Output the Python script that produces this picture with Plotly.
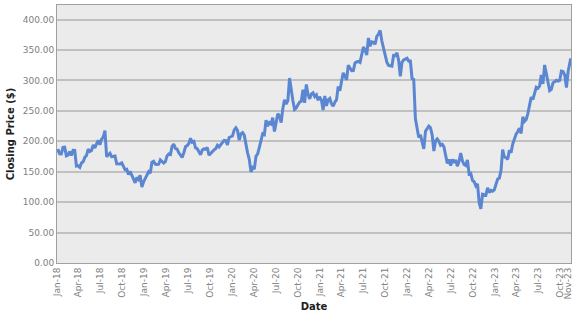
import plotly.graph_objects as go
import pandas as pd

# Weekly closing prices (approximate)
p2018 = [181.4, 186.9, 179.4, 179.3, 190.0, 190.3, 176.1, 177.4, 183.3, 176.6, 185.2, 185.1, 159.4, 159.8,
         157.2, 164.5, 166.3, 173.6, 176.6, 187.0, 183.2, 184.9, 194.0, 189.1, 195.9, 201.7, 194.3, 203.2,
         207.3, 217.5, 174.9, 177.8, 180.3, 174.7, 174.6, 175.7, 163.0, 162.5, 162.9, 164.5, 157.3, 153.4,
         154.1, 145.4, 150.4, 145.0, 139.5, 131.7, 140.6, 137.4, 144.1, 125.0, 133.2]
p2019 = [138.0, 144.2, 150.0, 147.5, 165.7, 167.3, 162.5, 161.9, 162.3, 169.6, 166.0, 164.3, 166.7, 176.0,
         179.1, 178.3, 191.5, 195.5, 188.3, 187.0, 181.1, 177.5, 173.4, 181.3, 191.1, 193.0, 196.4, 204.9,
         198.4, 199.8, 189.0, 187.9, 183.7, 177.8, 185.7, 187.5, 187.2, 189.9, 177.1, 180.5, 184.2, 185.9,
         187.9, 193.6, 190.8, 195.1, 198.8, 201.6, 201.1, 194.1, 206.3, 208.1]
p2020 = [208.7, 218.3, 222.1, 217.9, 201.9, 212.3, 214.2, 210.2, 192.5, 181.1, 170.3, 149.7, 156.8, 154.2,
         175.2, 179.2, 190.1, 202.3, 212.4, 210.9, 234.9, 225.1, 230.8, 228.6, 238.8, 216.1, 233.4, 245.1,
         242.0, 230.7, 253.7, 268.4, 261.2, 267.0, 303.9, 282.7, 266.6, 252.5, 254.8, 259.9, 264.5, 265.9,
         284.8, 263.1, 293.4, 277.0, 269.7, 277.8, 279.7, 273.6, 276.4, 267.4, 273.2]
p2021 = [267.6, 251.4, 274.5, 258.3, 268.1, 270.5, 261.6, 257.6, 264.3, 268.4, 290.1, 283.0, 298.7, 312.5,
         306.2, 301.1, 325.1, 319.1, 315.9, 316.2, 328.7, 330.4, 331.3, 329.7, 341.4, 354.7, 350.4, 341.7,
         369.8, 356.3, 363.5, 362.7, 359.4, 372.6, 376.3, 382.2, 364.7, 353.0, 343.0, 330.1, 324.8, 324.6,
         323.6, 341.1, 340.9, 345.3, 333.1, 306.8, 329.8, 333.8, 335.2, 336.4]
p2022 = [331.8, 331.9, 303.2, 301.7, 237.1, 219.6, 206.2, 210.5, 200.1, 187.6, 216.5, 221.8, 224.9, 222.3,
         210.2, 184.1, 200.5, 203.8, 199.8, 193.5, 195.1, 190.8, 175.6, 163.7, 170.2, 160.0, 170.2, 164.7,
         169.3, 159.1, 167.1, 180.5, 168.0, 161.8, 160.3, 169.2, 146.3, 147.3, 135.7, 133.5, 126.8, 130.0,
         99.2, 88.9, 113.0, 112.1, 111.4, 123.5, 115.9, 119.4, 118.0, 120.3]
p2023 = [130.0, 138.0, 139.4, 151.7, 186.5, 174.2, 173.0, 170.4, 185.3, 181.4, 195.6, 206.0, 211.9, 216.1,
         221.5, 212.9, 240.3, 232.8, 235.8, 245.6, 262.0, 272.6, 268.7, 281.0, 288.7, 287.0, 290.5, 308.9,
         294.3, 325.5, 310.7, 301.6, 283.3, 285.5, 296.4, 297.9, 300.3, 299.1, 300.2, 315.4, 314.7, 308.7,
         288.4, 314.6, 328.8, 336.3]

prices = p2018 + p2019 + p2020 + p2021 + p2022 + p2023

d2018 = [pd.Timestamp("2018-01-02")] + list(pd.date_range("2018-01-05", "2018-12-28", freq="W-FRI"))
d2019 = list(pd.date_range("2019-01-04", "2019-12-27", freq="W-FRI"))
d2020 = list(pd.date_range("2020-01-03", "2020-12-25", freq="W-FRI")) + [pd.Timestamp("2020-12-31")]
d2021 = list(pd.date_range("2021-01-08", "2021-12-31", freq="W-FRI"))
d2022 = list(pd.date_range("2022-01-07", "2022-12-30", freq="W-FRI"))
d2023 = list(pd.date_range("2023-01-06", "2023-11-03", freq="W-FRI")) + [pd.Timestamp("2023-11-10"), pd.Timestamp("2023-11-14")]
dates = d2018 + d2019 + d2020 + d2021 + d2022 + d2023
n = min(len(dates), len(prices))
dates = dates[:n]
prices = prices[:n]

tick_vals = list(pd.date_range("2018-01-01", "2023-10-01", freq="QS")) + [pd.Timestamp("2023-11-01")]
tick_text = [d.strftime("%b-%y") for d in tick_vals]
y_ticks = [0, 50, 100, 150, 200, 250, 300, 350, 400]

fig = go.Figure()
fig.add_trace(go.Scatter(x=dates, y=prices, mode="lines",
                         line=dict(color="#5b87d2", width=3), hoverinfo="skip"))

font_family = "DejaVu Sans, Verdana, sans-serif"
fig.update_layout(
    width=577, height=315,
    margin=dict(l=57, r=4, t=4, b=50),
    paper_bgcolor="white",
    plot_bgcolor="#ebebeb",
    showlegend=False,
    font=dict(family=font_family, size=9, color="#808080"),
)
fig.update_xaxes(
    range=[pd.Timestamp("2018-01-01"), pd.Timestamp("2023-11-15")],
    tickvals=tick_vals, ticktext=tick_text, tickangle=-90,
    showgrid=False, zeroline=False,
    showline=True, linecolor="#a0a0a0", linewidth=1, mirror=True,
    ticks="", tickfont=dict(size=9, color="#808080", family=font_family),
    title=dict(text="<b>Date</b>", font=dict(size=10, color="#202020", family=font_family), standoff=4),
)
fig.update_yaxes(
    range=[0, 424],
    tickvals=y_ticks, ticktext=[f"{v:.2f}" for v in y_ticks],
    showgrid=True, gridcolor="#c0c0c0", gridwidth=2,
    zeroline=False,
    showline=True, linecolor="#a0a0a0", linewidth=1, mirror=True,
    ticks="", tickfont=dict(size=9, color="#808080", family=font_family),
    title=dict(text="<b>Closing Price ($)</b>", font=dict(size=10, color="#202020", family=font_family), standoff=6),
)

fig.write_html("out.html")
